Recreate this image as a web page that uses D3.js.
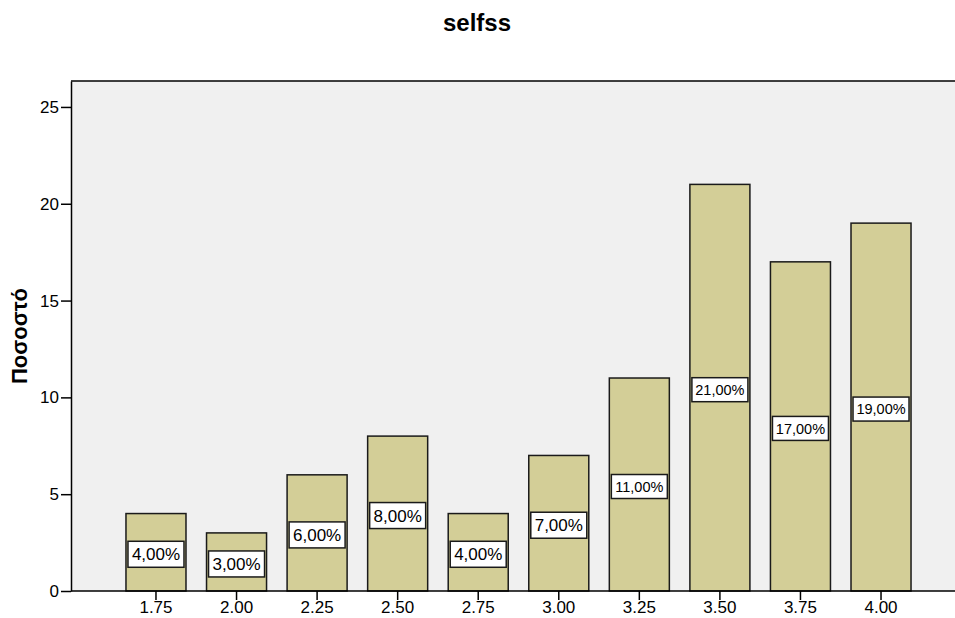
<!DOCTYPE html>
<html>
<head>
<meta charset="utf-8">
<script src="https://cdn.jsdelivr.net/npm/d3@7"></script>
<style>
  body { margin: 0; background: #fff; }
  text { font-family: Arial, "Liberation Sans", sans-serif; }
</style>
</head>
<body>
<svg width="955" height="618"></svg>
<script>
var categories = ["1.75", "2.00", "2.25", "2.50", "2.75", "3.00", "3.25", "3.50", "3.75", "4.00"];
var percents = [4, 3, 6, 8, 4, 7, 11, 21, 17, 19];
var yTicks = [0, 5, 10, 15, 20, 25];

var svg = d3.select("svg");

var plotLeft = 71, plotTop = 81, plotRight = 955, plotBottom = 591;

var x = d3.scaleBand()
    .domain(categories)
    .range([115.7, 921.3])
    .paddingInner(0.255)
    .paddingOuter(0.1275);

var y = d3.scaleLinear()
    .domain([0, 26.34])
    .range([plotBottom, plotTop]);

// plot background
svg.append("rect")
    .attr("x", plotLeft).attr("y", plotTop)
    .attr("width", plotRight - plotLeft).attr("height", plotBottom - plotTop)
    .attr("fill", "#f0f0f0");

svg.append("line")
    .attr("x1", plotLeft).attr("x2", plotRight)
    .attr("y1", plotTop).attr("y2", plotTop)
    .attr("stroke", "#000").attr("stroke-width", 1.5);

// bars
var data = categories.map(function (c, i) { return { cat: c, value: percents[i] }; });

svg.append("g")
    .selectAll("rect")
    .data(data).enter()
    .append("rect")
    .attr("x", function (d) { return x(d.cat); })
    .attr("y", function (d) { return y(d.value); })
    .attr("width", x.bandwidth())
    .attr("height", function (d) { return plotBottom - y(d.value); })
    .attr("fill", "#d3ce97")
    .attr("stroke", "#1a1a1a")
    .attr("stroke-width", 1.5);

// value labels (6-character labels get a smaller font, as in the original)
var fmt = function (v) { return v.toFixed(2).replace(".", ",") + "%"; };
var labels = svg.append("g")
    .selectAll("g")
    .data(data).enter()
    .append("g")
    .attr("transform", function (d) {
        return "translate(" + (x(d.cat) + x.bandwidth() / 2) + "," + (y(d.value / 2) + 2) + ")";
    });

labels.append("rect")
    .attr("x", -28)
    .attr("y", function (d) { return d.value >= 10 ? -12 : -13; })
    .attr("width", 56)
    .attr("height", function (d) { return d.value >= 10 ? 24 : 26; })
    .attr("fill", "#fff")
    .attr("stroke", "#1a1a1a")
    .attr("stroke-width", 1.5);

labels.append("text")
    .attr("text-anchor", "middle")
    .attr("dy", "0.36em")
    .attr("font-size", function (d) { return d.value >= 10 ? "14.5px" : "17px"; })
    .text(function (d) { return fmt(d.value); });

// axes
var yAxis = svg.append("g")
    .attr("transform", "translate(" + plotLeft + ",0)")
    .call(d3.axisLeft(y).tickValues(yTicks).tickSize(10).tickSizeOuter(0).tickPadding(2));
yAxis.select(".domain").attr("stroke-width", 1.5);
yAxis.selectAll(".tick line").attr("stroke-width", 1.5);
yAxis.selectAll("text").attr("font-size", "17px").attr("fill", "#000")
    .style("font-family", "Arial, 'Liberation Sans', sans-serif");

var xAxis = svg.append("g")
    .attr("transform", "translate(0," + plotBottom + ")")
    .call(d3.axisBottom(x).tickSize(9).tickSizeOuter(0).tickPadding(1));
xAxis.select(".domain").attr("d", "M" + plotLeft + ",0H" + plotRight).attr("stroke-width", 1.5);
xAxis.selectAll(".tick line").attr("stroke-width", 1.5);
xAxis.selectAll("text").attr("font-size", "17px").attr("fill", "#000")
    .style("font-family", "Arial, 'Liberation Sans', sans-serif");

// title and axis label
svg.append("text")
    .attr("x", 477).attr("y", 31)
    .attr("text-anchor", "middle")
    .attr("font-size", "24px").attr("font-weight", "bold")
    .text("selfss");

svg.append("text")
    .attr("transform", "translate(27," + ((plotTop + plotBottom) / 2) + ") rotate(-90)")
    .attr("text-anchor", "middle")
    .attr("font-size", "22px").attr("font-weight", "bold")
    .text("Ποσοστό");
</script>
</body>
</html>
